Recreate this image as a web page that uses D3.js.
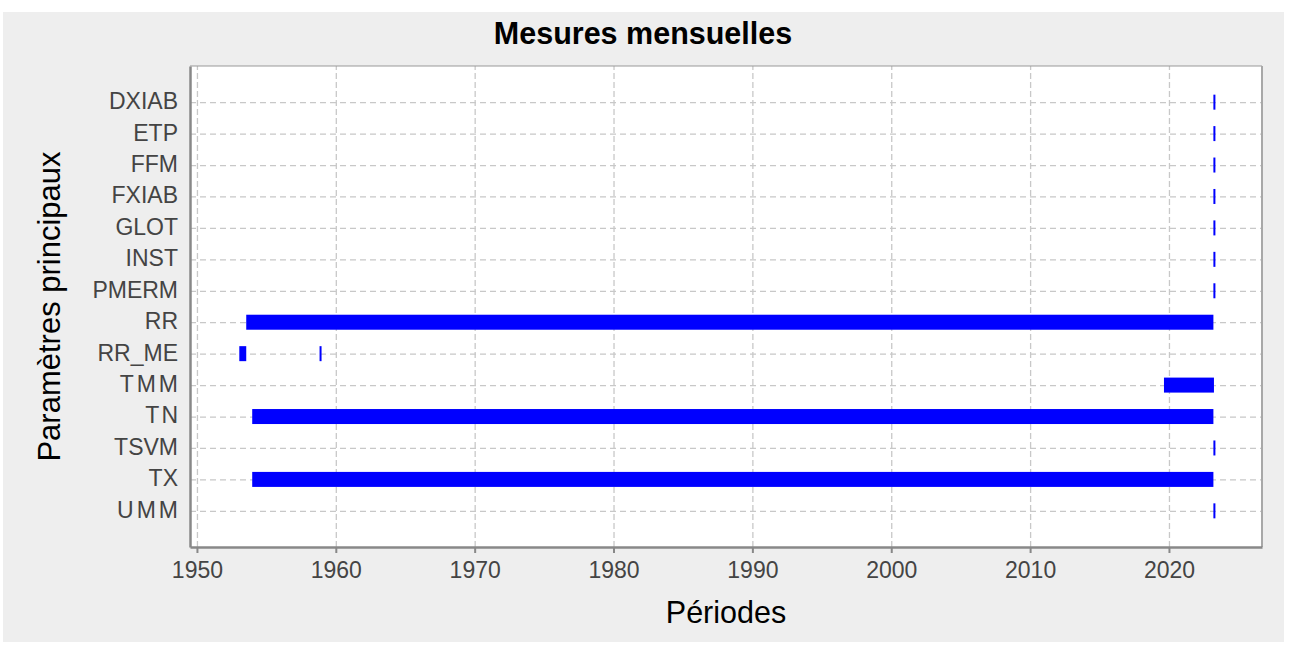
<!DOCTYPE html>
<html>
<head>
<meta charset="utf-8">
<script src="https://cdn.jsdelivr.net/npm/d3@7"></script>
<style>
  body { margin: 0; background: #ffffff; }
  text { font-family: "Liberation Sans", Arial, sans-serif; }
</style>
</head>
<body>
<div id="chart-area"></div>
<script>
// parameters (rows, top to bottom)
var params = ["DXIAB", "ETP", "FFM", "FXIAB", "GLOT", "INST", "PMERM", "RR", "RR_ME", "TMM", "TN", "TSVM", "TX", "UMM"];
// measured periods (one entry per segment)
var segParam = ["DXIAB", "ETP", "FFM", "FXIAB", "GLOT", "INST", "PMERM", "RR", "RR_ME", "RR_ME", "TMM", "TN", "TSVM", "TX", "UMM"];
var segStart = [2023.2, 2023.2, 2023.2, 2023.2, 2023.2, 2023.2, 2023.2, 1953.55, 1953.05, 1958.83, 2019.64, 1953.98, 2023.2, 1953.98, 2023.2];
var segEnd   = [2023.2, 2023.2, 2023.2, 2023.2, 2023.2, 2023.2, 2023.2, 2023.2, 1953.55, 1958.83, 2023.24, 2023.2, 2023.2, 2023.2, 2023.2];
var yearTicks = [1950, 1960, 1970, 1980, 1990, 2000, 2010, 2020];

var W = 1292, H = 646;
var margin = {top: 66, right: 30, bottom: 99, left: 190};
var width = 1262 - margin.left;
var height = 547 - margin.top;

var svg = d3.select("#chart-area").append("svg").attr("width", W).attr("height", H);
svg.append("rect").attr("x", 3).attr("y", 12).attr("width", 1281).attr("height", 630).attr("fill", "#eeeeee");

var g = svg.append("g").attr("transform", "translate(" + margin.left + ", " + margin.top + ")");
g.append("rect").attr("width", width).attr("height", height).attr("fill", "#ffffff");

var x = d3.scaleLinear().domain([1949.5, 2026.7]).range([0, width]);
var y = d3.scalePoint().domain(params).range([0, height]).padding(1.15);

// grid
var xGrid = g.append("g").attr("class", "x grid").attr("transform", "translate(0, " + height + ")")
  .call(d3.axisBottom(x).tickValues(yearTicks).tickSize(-height).tickFormat(""));
xGrid.select(".domain").remove();
xGrid.selectAll("line").attr("stroke", "#c8c8c8").attr("stroke-width", 1.3).attr("stroke-dasharray", "6,3");

var yGrid = g.append("g").attr("class", "y grid")
  .call(d3.axisLeft(y).tickSize(-width).tickFormat(""));
yGrid.select(".domain").remove();
yGrid.selectAll("line").attr("stroke", "#c8c8c8").attr("stroke-width", 1.3).attr("stroke-dasharray", "6,4");

// bars
var barH = 15;
g.selectAll("rect.bar").data(segParam).enter().append("rect").attr("class", "bar")
  .attr("x", (d, i) => { return x(segStart[i]); })
  .attr("y", (d) => { return y(d) - barH / 2; })
  .attr("width", (d, i) => { return Math.max(2, x(segEnd[i]) - x(segStart[i])); })
  .attr("height", barH)
  .attr("fill", "#0000ff");

// frame
g.append("line").attr("x1", 0).attr("x2", width).attr("y1", 0).attr("y2", 0).attr("stroke", "#999").attr("stroke-width", 1);
g.append("line").attr("x1", width).attr("x2", width).attr("y1", 0).attr("y2", height).attr("stroke", "#a8a8a8").attr("stroke-width", 2);

// axes
var bottomAxis = d3.axisBottom(x).tickValues(yearTicks).tickSize(6).tickSizeOuter(0).tickPadding(9).tickFormat(d3.format("d"));
var xAxis = g.append("g").attr("class", "bottom axis").attr("transform", "translate(0, " + height + ")").call(bottomAxis);
xAxis.select(".domain").attr("stroke", "#888").attr("stroke-width", 2.5);
xAxis.selectAll("line").attr("stroke", "#888").attr("stroke-width", 2);
xAxis.selectAll("text").style("fill", "#444").style("font-size", "23px");

// some labels are drawn spaced out in the original
var spacing = {"TMM": 3, "UMM": 3, "TN": 2};
var leftAxis = d3.axisLeft(y).tickSize(0).tickPadding(12);
var yAxis = g.append("g").attr("class", "y axis").call(leftAxis);
yAxis.select(".domain").attr("stroke", "#888").attr("stroke-width", 2.5);
yAxis.selectAll("text").style("fill", "#444").style("font-size", "23px").attr("dy", "0.28em")
  .style("letter-spacing", (d) => { return spacing[d] ? spacing[d] + "px" : null; })
  .attr("dx", (d) => { return spacing[d] ? spacing[d] : 0; });

// titles
svg.append("text").attr("x", 643).attr("y", 44).attr("text-anchor", "middle")
  .style("font-size", "30.5px").style("font-weight", "bold").style("fill", "#000").text("Mesures mensuelles");

g.append("text").attr("class", "x axis-label").attr("x", width / 2).attr("y", height + 76)
  .attr("text-anchor", "middle").style("font-size", "30.5px").style("fill", "#000").text("Périodes");

g.append("text").attr("class", "y axis-label").attr("x", -(height / 2)).attr("y", -130)
  .attr("text-anchor", "middle").attr("transform", "rotate(-90)").style("font-size", "31px").style("fill", "#000").text("Paramètres principaux");
</script>
</body>
</html>
